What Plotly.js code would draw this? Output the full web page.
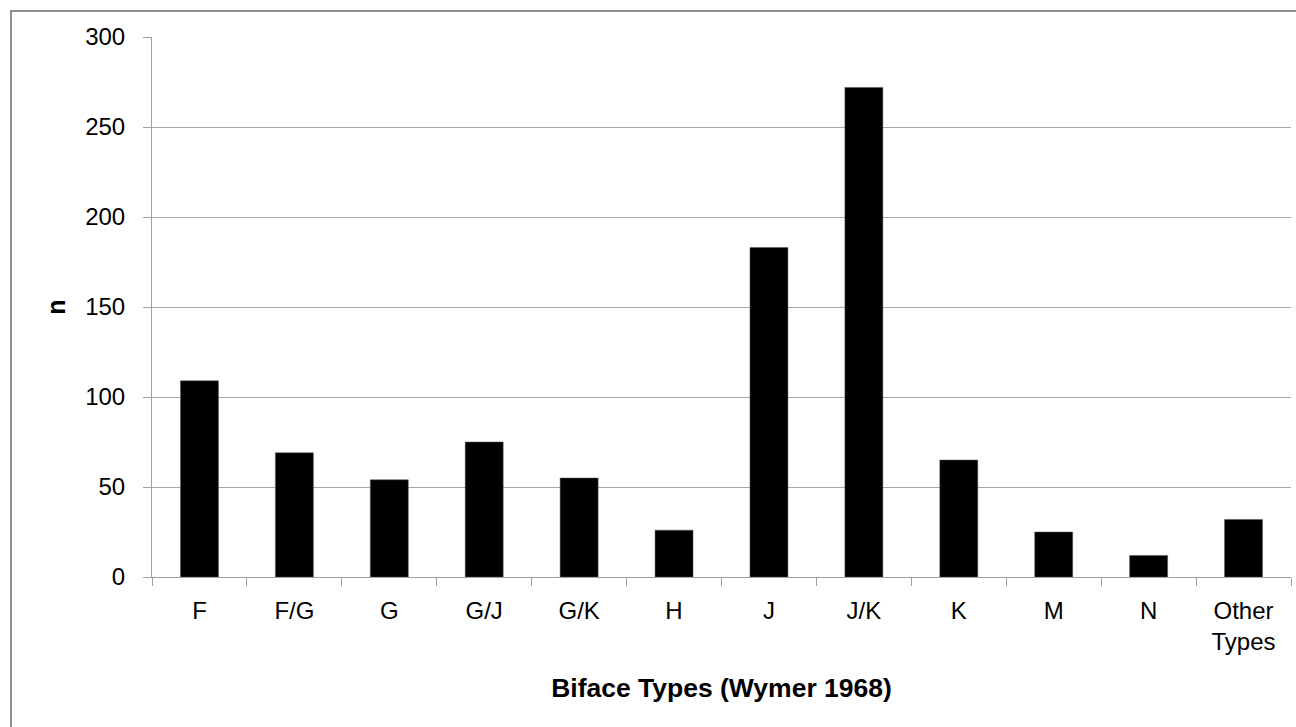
<!DOCTYPE html>
<html>
<head>
<meta charset="utf-8">
<script src="https://cdn.plot.ly/plotly-3.0.1.min.js"></script>
<style>
  html, body { margin: 0; padding: 0; background: #fff; overflow: hidden; }
  #chart { position: absolute; left: 0; top: 0; width: 1296px; height: 727px; }
  #frame { position: absolute; left: 10px; top: 10px; width: 1400px; height: 800px;
           border: 2px solid #8e8e8e; pointer-events: none; box-sizing: border-box; }
</style>
</head>
<body>
<div id="chart"></div>
<div id="frame"></div>
<script>
const categories = ["F", "F/G", "G", "G/J", "G/K", "H", "J", "J/K", "K", "M", "N", "Other<br>Types"];
const counts = [109, 69, 54, 75, 55, 26, 183, 272, 65, 25, 12, 32];
const yTickValues = [0, 50, 100, 150, 200, 250, 300];
const xTitle = "Biface Types (Wymer 1968)";
const yTitle = "n";

const font = "Liberation Sans, Arial, sans-serif";

Plotly.newPlot("chart", [{
  type: "bar",
  x: categories,
  y: counts,
  marker: { color: "#000000", line: { color: "#555555", width: 0.5 } },
  hoverinfo: "x+y"
}], {
  width: 1296,
  height: 727,
  margin: { l: 152, r: 5, t: 37, b: 150 },
  paper_bgcolor: "#ffffff",
  plot_bgcolor: "#ffffff",
  bargap: 0.6,
  showlegend: false,
  font: { family: font, color: "#000000", size: 24 },
  xaxis: {
    type: "category",
    tickson: "boundaries",
    ticks: "outside",
    ticklen: 8,
    tickwidth: 1,
    tickcolor: "#a0a0a0",
    showline: true,
    linecolor: "#a0a0a0",
    linewidth: 1,
    showgrid: false,
    tickfont: { family: font, size: 24, color: "#000" },
    ticklabelstandoff: 12,
    title: { text: xTitle, font: { family: font, size: 26.5, color: "#000", weight: "bold" }, standoff: 24 }
  },
  yaxis: {
    range: [0, 300],
    tickvals: yTickValues,
    ticks: "outside",
    ticklen: 8,
    tickwidth: 1,
    tickcolor: "#a0a0a0",
    showline: true,
    linecolor: "#a0a0a0",
    linewidth: 1,
    showgrid: true,
    gridcolor: "#a6a6a6",
    gridwidth: 1,
    zeroline: false,
    tickfont: { family: font, size: 24, color: "#000" },
    ticklabelstandoff: 13,
    title: { text: yTitle, font: { family: font, size: 25, color: "#000", weight: "bold" }, standoff: 12 }
  }
}, { displayModeBar: false, staticPlot: true });
</script>
</body>
</html>
